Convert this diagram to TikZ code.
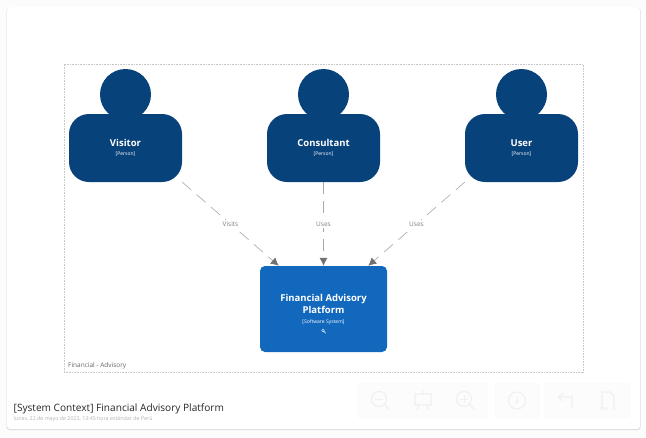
\documentclass[tikz,border=0pt]{standalone}
\usepackage{fontspec}
\setmainfont{Open Sans}
\usetikzlibrary{calc,arrows.meta}
\definecolor{personblue}{HTML}{08427B}
\definecolor{systemblue}{HTML}{1168BD}
\definecolor{relgray}{HTML}{A8A8A8}
\definecolor{labelgray}{HTML}{808080}
\definecolor{tipgray}{HTML}{707070}
\definecolor{toolgray}{HTML}{F0F0F0}
\newcommand{\namefont}{\fontsize{9.5}{11}\selectfont\bfseries}
\newcommand{\kindfont}{\fontsize{5}{6}\selectfont}
\tikzset{
  person/.style={draw=none, fill=personblue, rounded corners=20pt, minimum width=113pt, minimum height=68pt,
    text=white, align=center, inner sep=0pt},
  head/.style={circle, fill=personblue, minimum size=51pt, inner sep=0pt},
  rel/.style={draw=relgray, dash pattern=on 12pt off 7pt, line width=0.6pt},
  reltip/.style={-{Latex[length=8pt,width=8pt,color=tipgray]}},
  rellabel/.style={fill=white, text=labelgray, font=\fontsize{6.5}{8}\selectfont, inner sep=1.5pt},
  toolbtn/.style={fill=white!99!black, draw=white!98!black, inner sep=0pt},
  toolicon/.style={draw=toolgray, line width=1.1pt}
}
\begin{document}
\begin{tikzpicture}[x=1pt, y=-1pt]
      \useasboundingbox (0,0) rectangle (646,437);
      \fill [white!99!black] (0,0) rectangle (646,437);
      \fill [black!14, rounded corners=3pt] (6.5,7.5) rectangle (640.5,430);
      \fill [white, rounded corners=3pt] (7,7) rectangle (640,429);

      % boundary
      \node [draw=black!22, dash pattern=on 0.8pt off 0.8pt, line width=0.5pt, minimum width=519pt, minimum height=308pt, inner sep=0pt] (boundary) at (323.5,218) {};
      \node [anchor=west, text=black!60, font=\fontsize{6.5}{8}\selectfont, inner sep=0pt] (boundarylabel) at (68,366) {Financial - Advisory};

      % people
      \node [head] (visitorhead) at (125.5,94.5) {};
      \node [head] (consultanthead) at (323.5,94.5) {};
      \node [head] (userhead) at (521.5,94.5) {};
      \node [person] (visitor) at (125.5,148) {{\namefont Visitor}\\[-3pt]{\kindfont [Person]}};
      \node [person] (consultant) at (323.5,148) {{\namefont Consultant}\\[-3pt]{\kindfont [Person]}};
      \node [person] (user) at (521.5,148) {{\namefont User}\\[-3pt]{\kindfont [Person]}};

      % system
      \node [fill=systemblue, rounded corners=5pt, minimum width=127pt, minimum height=86pt, text=white, align=center, inner sep=0pt] (platform) at (323.5,309)
        {{\namefont Financial Advisory}\\{\namefont Platform}\\[-2pt]{\kindfont [Software System]}};
      \coordinate (lens) at (323,330.5);
      \draw [white, line width=0.4pt] (lens) circle (1.4pt) ($(lens)+(1,1)$) -- ($(lens)+(2.8,2.8)$);

      % relationships
      \draw [rel, reltip] (visitor.329) -- node [rellabel, pos=0.5] {Visits} (platform.136);
      \draw [rel, reltip] (consultant.south) -- node [rellabel, pos=0.5] {Uses} (platform.north);
      \draw [rel, reltip] (user.211) -- node [rellabel, pos=0.5] {Uses} (platform.44);

      % title
      \node [anchor=west, text=black!85, font=\fontsize{10.1}{12}\selectfont, inner sep=0pt] (title) at (13.5,408.5) {[System Context] Financial Advisory Platform};
      \node [anchor=west, text=black!30, font=\fontsize{5.3}{6}\selectfont, inner sep=0pt] (subtitle) at (13.5,419) {lunes, 22 de mayo de 2023, 13:45 hora estándar de Perú};

      % toolbar
      \foreach \n/\xa/\xb in {zoomgroup/358/487, infogroup/495/539, navgroup/544/630}
               {
                 \pgfmathsetmacro{\btnwidth}{\xb-\xa}
                 \node [toolbtn, minimum width=\btnwidth pt, minimum height=35pt, rounded corners=2pt] (\n) at ({(\xa+\xb)/2},400.5) {};
               }
      \foreach \x in {380, 465}
               {
                 \draw [toolicon] (\x-1,399) circle (7.5pt) (\x+4.5,404.5) -- (\x+9.5,409.5);
                 \draw [toolicon, line width=0.7pt] (\x-5,399) -- (\x+3,399);
               }
      \draw [toolicon, line width=0.7pt] (464,395) -- (464,403);
      \draw [toolicon] (415,394) rectangle (431,405) (419,405) -- (417,410) (427,405) -- (429,410) (423,390.5) -- (423,394);
      \draw [toolicon] (517,400.5) circle (8.5pt);
      \node [text=toolgray, font=\fontsize{10}{12}\selectfont\bfseries\itshape, inner sep=0pt] (infomark) at (517,400.5) {i};
      \draw [toolicon] (572,408) -- (572,397) -- (559,397) (563,393) -- (558.5,397) -- (563,401);
      \draw [toolicon] (602,408) -- (602,392) -- (610,392) -- (614,396) -- (614,410);
      \node [text=toolgray, font=\fontsize{4}{5}\selectfont\bfseries, inner sep=0pt] (pngmark) at (604,409) {PNG};
    \end{tikzpicture}
\end{document}
